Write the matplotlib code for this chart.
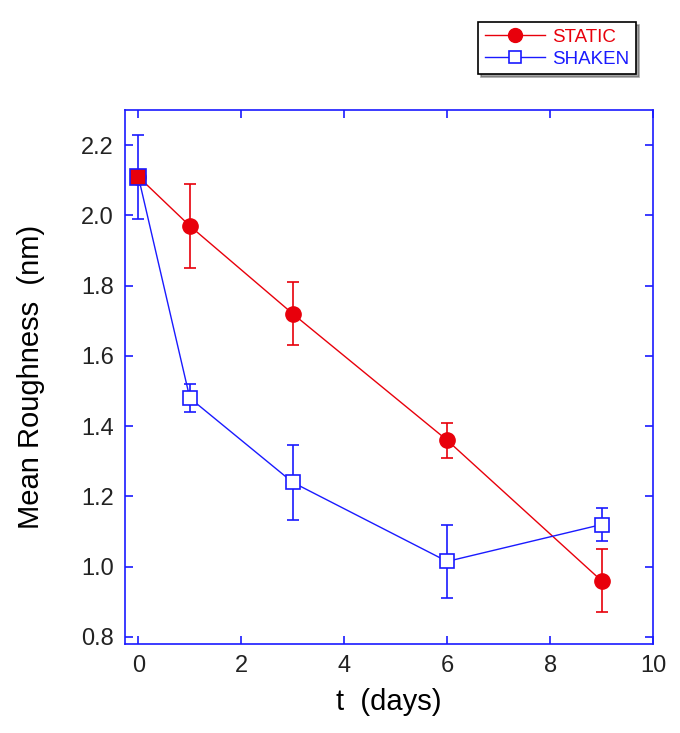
import matplotlib
matplotlib.use("Agg")
import matplotlib.pyplot as plt
from matplotlib.lines import Line2D

plt.rcParams['font.family'] = ['Liberation Sans', 'DejaVu Sans']

t_static = [0, 1, 3, 6, 9]
static = [2.11, 1.97, 1.72, 1.36, 0.96]
static_err = [0.0, 0.12, 0.09, 0.05, 0.09]

t_shaken = [0, 1, 3, 6, 9]
shaken = [2.11, 1.48, 1.24, 1.015, 1.12]
shaken_err = [0.12, 0.04, 0.107, 0.105, 0.048]

xticks = [0, 2, 4, 6, 8, 10]
yticks = [0.8, 1.0, 1.2, 1.4, 1.6, 1.8, 2.0, 2.2]

fig = plt.figure(figsize=(6.8, 7.33), dpi=100)
ax = fig.add_axes([125/680, 1-644/733, (653-125)/680, (644-110)/733])

red = '#e8000b'
blue = '#1a1aff'

ax.errorbar(t_static, static, yerr=static_err, color=red, lw=1, marker='o',
            ms=11, mfc=red, mec=red, capsize=4, elinewidth=1.2, capthick=1.2,
            zorder=3)
ax.errorbar(t_shaken, shaken, yerr=shaken_err, color=blue, lw=1, marker='s',
            ms=10, mfc='white', mec=blue, mew=1.2, capsize=4, elinewidth=1.2,
            capthick=1.2, zorder=4)
# overlapping first point: red-filled square
ax.plot(t_shaken[:1], shaken[:1], marker='s', ms=11, mfc=red, mec=blue,
        mew=1.2, ls='none', zorder=5)

ax.set_xlim(-0.26, 10)
ax.set_ylim(0.78, 2.3)
ax.set_xticks(xticks)
ax.set_xticklabels([str(v) for v in xticks])
ax.set_yticks(yticks)
ax.set_yticklabels([f'{v:.1f}' for v in yticks])

for s in ax.spines.values():
    s.set_color(blue)
    s.set_linewidth(1.2)
ax.tick_params(direction='in', length=6, width=1.2, color=blue,
               top=True, right=True, labelsize=17, labelcolor='#222222', pad=8)

ax.set_xlabel('t  (days)', fontsize=21, labelpad=8)
ax.set_ylabel('Mean Roughness  (nm)', fontsize=21, labelpad=26)

handles = [
    Line2D([], [], color=red, lw=1, marker='o', ms=10, mfc=red, mec=red),
    Line2D([], [], color=blue, lw=1, marker='s', ms=9, mfc='white', mec=blue, mew=1.2),
]
leg = fig.legend(handles, ['STATIC', 'SHAKEN'], loc='upper left',
                 bbox_to_anchor=(478/680, 1-22/733),
                 fontsize=13.5, frameon=True, fancybox=False, shadow=True,
                 edgecolor='black', borderpad=0.35, handlelength=3.2,
                 handletextpad=0.4, labelspacing=0.25, borderaxespad=0)
leg.get_frame().set_linewidth(1.2)
for txt, c in zip(leg.get_texts(), [red, blue]):
    txt.set_color(c)

fig.savefig('out.png', dpi=100)
